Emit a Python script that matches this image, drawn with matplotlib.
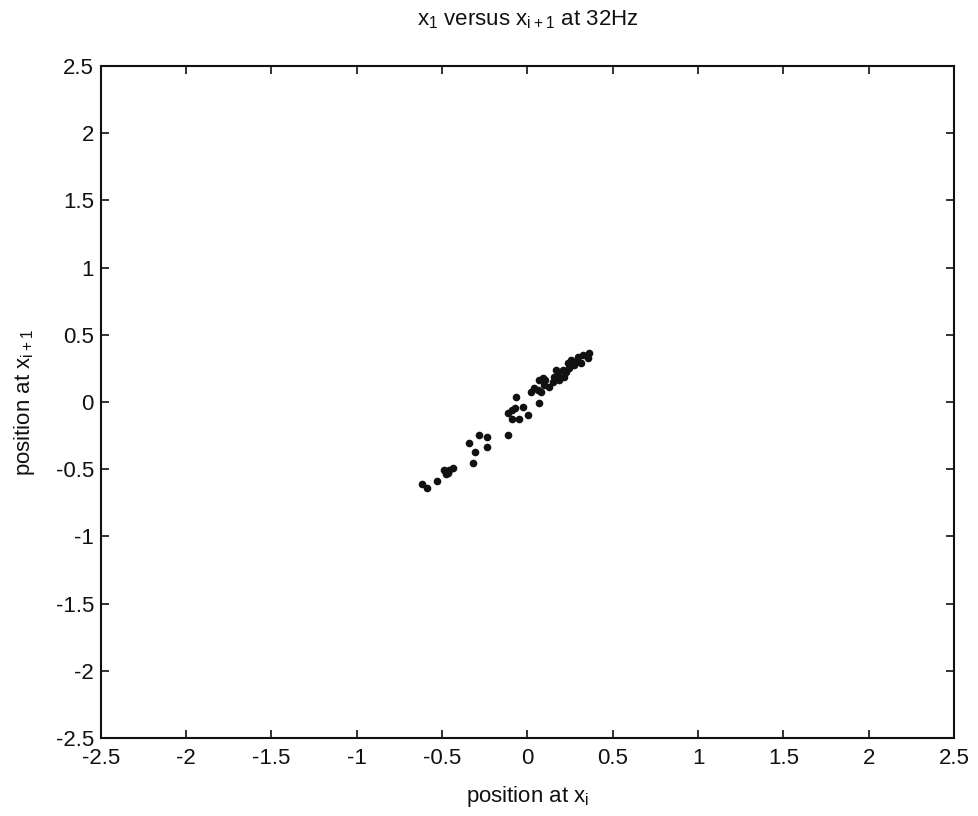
import matplotlib
matplotlib.use("Agg")
import matplotlib.pyplot as plt

plt.rcParams['font.family'] = ['Liberation Sans', 'DejaVu Sans']
plt.rcParams['mathtext.default'] = 'regular'

# Return map samples: position at x_i versus position at x_{i+1}
x_i = [-0.618, -0.589, -0.530, -0.489, -0.477, -0.460, -0.436, -0.466,
       -0.343, -0.307, -0.319, -0.284, -0.237, -0.237,
       -0.114, -0.114, -0.091, -0.073, -0.091, -0.050, -0.067,
       -0.026, 0.003, 0.067,
       0.038, 0.061, 0.091, 0.097, 0.126, 0.149, 0.179, 0.208, 0.237,
       0.255, 0.296, 0.325, 0.354, 0.360, 0.214, 0.243, 0.184, 0.272,
       0.155, 0.167, 0.225, 0.284, 0.079, 0.020, 0.067, 0.102, 0.313]
x_next = [-0.610, -0.640, -0.588, -0.506, -0.536, -0.506, -0.491, -0.528,
          -0.305, -0.372, -0.454, -0.246, -0.260, -0.335,
          -0.246, -0.082, -0.060, -0.045, -0.126, -0.126, 0.037,
          -0.037, -0.097, -0.007,
          0.104, 0.089, 0.179, 0.126, 0.112, 0.149, 0.201, 0.238, 0.290,
          0.313, 0.335, 0.350, 0.327, 0.365, 0.186, 0.253, 0.164, 0.275,
          0.186, 0.238, 0.223, 0.298, 0.074, 0.074, 0.164, 0.164, 0.290]

ticks = [-2.5, -2, -1.5, -1, -0.5, 0, 0.5, 1, 1.5, 2, 2.5]
tick_labels = ['-2.5', '-2', '-1.5', '-1', '-0.5', '0', '0.5', '1', '1.5', '2', '2.5']

fig = plt.figure(figsize=(9.79, 8.16), dpi=100)
ax = fig.add_axes([0.103, 0.0956, 0.8715, 0.8234])

ax.plot(x_i, x_next, 'o', color='#111111', markersize=5.5, markeredgewidth=0)

ax.set_xlim(-2.5, 2.5)
ax.set_ylim(-2.5, 2.5)
ax.set_xticks(ticks)
ax.set_xticklabels(tick_labels)
ax.set_yticks(ticks)
ax.set_yticklabels(tick_labels)
ax.tick_params(direction='in', length=6, width=1.2, top=True, right=True,
               labelsize=16, colors='#111111')
ax.tick_params(axis='x', pad=7)
ax.tick_params(axis='y', pad=5)
for s in ax.spines.values():
    s.set_linewidth(1.5)
    s.set_color('#111111')

ax.set_title('x$_1$ versus x$_{i+1}$ at 32Hz', fontsize=16, pad=29, color='#111111')
ax.set_xlabel('position at x$_i$', fontsize=16, labelpad=11, color='#111111')
ax.set_ylabel('position at x$_{i+1}$', fontsize=16, labelpad=13, color='#111111')

fig.savefig('out.png', dpi=100)
